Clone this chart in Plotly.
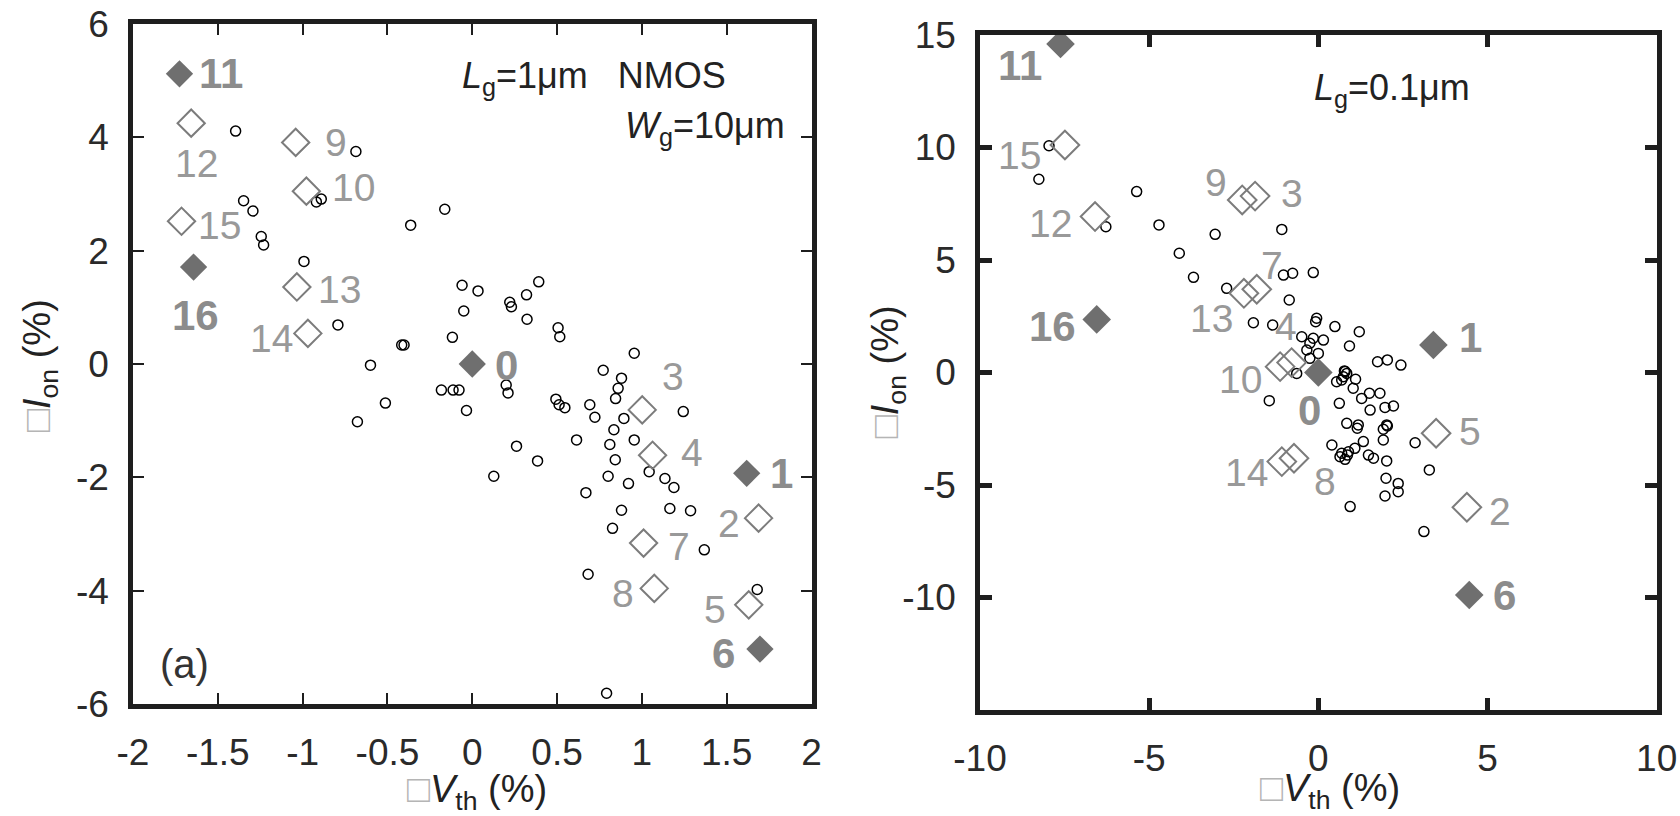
import plotly.graph_objects as go

# ---------------- Panel (a): Lg = 1 um ----------------
a_filled_id = ["0", "1", "6", "11", "16"]
a_filled_x = [0.0, 1.618, 1.696, -1.726, -1.643]
a_filled_y = [0.0, -1.93, -5.03, 5.12, 1.71]

a_open_id = ["2", "3", "4", "5", "7", "8", "9", "10", "12", "13", "14", "15"]
a_open_x = [1.688, 1.002, 1.063, 1.63, 1.01, 1.073, -1.041, -0.978, -1.657, -1.034, -0.969, -1.714]
a_open_y = [-2.72, -0.81, -1.61, -4.25, -3.16, -3.96, 3.91, 3.05, 4.25, 1.36, 0.54, 2.52]

a_circ_x = [-1.395, -0.686, -1.348, -1.293, -0.919, -0.890, -0.162, -0.363, -1.244, -1.230,
            -0.992, -0.060, 0.034, -0.050, -0.792, -0.117, -0.402, -0.416, -0.600,
            0.221, 0.231, 0.320, 0.392, 0.323, 0.506, 0.516, 0.955,
            -0.182, -0.113, -0.078, -0.512, -0.034, -0.677,
            0.772, 0.200, 0.211, 0.880, 0.860, 0.845, 0.493, 0.512, 0.546, 0.693, 0.723,
            0.894, 1.244, 0.835, 0.261, 0.615, 0.811, 0.955, 0.385, 0.843, 0.127, 0.801,
            1.043, 1.136, 1.189, 0.921, 0.670, 0.880, 1.165, 1.287, 0.827, 1.368, 0.683,
            1.680, 0.792]
a_circ_y = [4.11, 3.75, 2.88, 2.70, 2.86, 2.91, 2.73, 2.45, 2.25, 2.10,
            1.81, 1.39, 1.29, 0.935, 0.69, 0.47, 0.335, 0.335, -0.02,
            1.09, 1.01, 1.22, 1.45, 0.79, 0.64, 0.48, 0.19,
            -0.46, -0.46, -0.46, -0.69, -0.82, -1.02,
            -0.11, -0.37, -0.51, -0.25, -0.43, -0.61, -0.62, -0.72, -0.77, -0.72, -0.94,
            -0.96, -0.84, -1.16, -1.45, -1.34, -1.42, -1.34, -1.71, -1.69, -1.98, -1.98,
            -1.90, -2.02, -2.18, -2.11, -2.27, -2.58, -2.55, -2.59, -2.90, -3.28, -3.71,
            -3.98, -5.81]

a_xticks = [-2, -1.5, -1, -0.5, 0, 0.5, 1, 1.5, 2]
a_xticktext = ["-2", "-1.5", "-1", "-0.5", "0", "0.5", "1", "1.5", "2"]
a_yticks = [-6, -4, -2, 0, 2, 4, 6]
a_yticktext = ["-6", "-4", "-2", "0", "2", "4", "6"]

# ---------------- Panel (b): Lg = 0.1 um ----------------
b_filled_id = ["0", "1", "6", "11", "16"]
b_filled_x = [0.0, 3.40, 4.46, -7.62, -6.55]
b_filled_y = [0.0, 1.22, -9.89, 14.6, 2.36]

b_open_id = ["2", "3", "4", "5", "7", "8", "9", "10", "12", "13", "14", "15"]
b_open_x = [4.39, -1.87, -0.79, 3.48, -1.82, -0.72, -2.25, -1.13, -6.60, -2.20, -1.08, -7.49]
b_open_y = [-5.99, 7.84, 0.44, -2.70, 3.70, -3.81, 7.67, 0.26, 6.93, 3.52, -3.96, 10.11]

b_circ_x = [-7.96, -8.26, -5.37, -6.28, -4.71, -3.05, -1.08, -4.11, -3.69, -2.71,
            -1.03, -0.76, -0.15, -0.86, -1.92, -1.35,
            -0.05, -0.08, 0.49, 1.21, -0.49, -0.15, 0.15, -0.25, -0.34, 0.00, 0.92, -0.25,
            -0.64, 1.75, 2.04, 2.44, 0.77, 0.84, 0.69, 1.10, 1.03, 1.28, 1.51, 1.82,
            1.53, 1.97, 2.22, -1.45, 0.62, 0.84, 1.18, 2.02,
            1.15, 1.92, 2.04, 1.92, 0.40, 1.33, 1.08, 0.89, 0.69, 0.64, 0.79, 0.86,
            1.48, 1.63, 2.02, 2.00, 2.36, 2.36, 1.97, 0.94,
            0.79, 0.74, 0.54, 2.86, 3.28, 3.12]
b_circ_y = [10.08, 8.59, 8.04, 6.48, 6.56, 6.14, 6.36, 5.30, 4.23, 3.74,
            4.33, 4.41, 4.44, 3.22, 2.21, 2.11,
            2.41, 2.26, 2.04, 1.81, 1.59, 1.52, 1.44, 1.30, 1.00, 0.85, 1.18, 0.63,
            -0.04, 0.48, 0.56, 0.33, 0.07, -0.04, -0.33, -0.30, -0.70, -1.15, -0.92, -0.92,
            -1.67, -1.55, -1.49, -1.25, -1.37, -2.26, -2.33, -2.33,
            -2.48, -2.52, -2.38, -3.00, -3.22, -3.07, -3.37, -3.52, -3.59, -3.74, -3.86, -3.67,
            -3.67, -3.81, -3.93, -4.70, -4.93, -5.30, -5.49, -5.96,
            0.04, -0.19, -0.41, -3.12, -4.33, -7.07]

b_xticks = [-10, -5, 0, 5, 10]
b_xticktext = ["-10", "-5", "0", "5", "10"]
b_yticks = [-10, -5, 0, 5, 10, 15]
b_yticktext = ["-10", "-5", "0", "5", "10", "15"]

# label pixel offsets (style only): id -> (dx, dy) with dy downward
a_lab_off = {"0": (34, 2), "1": (35, 0), "6": (-36, 4), "11": (42, 0), "16": (2, 48),
             "2": (-30, 5), "3": (31, -33), "4": (39, -3), "5": (-34, 5), "7": (35, 3),
             "8": (-31, 5), "9": (40, 0), "10": (47, -4), "12": (5, 40), "13": (43, 3),
             "14": (-36, 5), "15": (38, 4)}
b_lab_off = {"0": (-9, 38), "1": (37, -8), "6": (35, 0), "11": (-41, 21), "16": (-44, 7),
             "2": (33, 4), "3": (37, -3), "4": (-6, -36), "5": (34, -2), "7": (15, -24),
             "8": (31, 23), "9": (-26, -17), "10": (-40, 13), "12": (-45, 7), "13": (-32, 25),
             "14": (-35, 11), "15": (-45, 10)}

FONT = "Liberation Sans, Arial, Helvetica, sans-serif"
FILL_C = "#6f6f6f"
OPEN_C = "#7c7c7c"
LAB_C = "#999999"
LAB_BOLD_C = "#8c8c8c"
AX_C = "#1e1e1e"

fig = go.Figure()

def add_panel(xa, ya, cx, cy, ox, oy, fx, fy, dsize):
    fig.add_trace(go.Scatter(x=cx, y=cy, mode="markers", xaxis=xa, yaxis=ya,
                             marker=dict(symbol="circle-open", size=10, color="black",
                                         line=dict(width=1.5, color="black")),
                             hoverinfo="skip"))
    fig.add_trace(go.Scatter(x=ox, y=oy, mode="markers", xaxis=xa, yaxis=ya,
                             marker=dict(symbol="diamond-open", size=dsize, color=OPEN_C,
                                         line=dict(width=2, color=OPEN_C)),
                             hoverinfo="skip"))
    fig.add_trace(go.Scatter(x=fx, y=fy, mode="markers", xaxis=xa, yaxis=ya,
                             marker=dict(symbol="diamond", size=dsize, color=FILL_C,
                                         line=dict(width=0)),
                             hoverinfo="skip"))

add_panel("x", "y", a_circ_x, a_circ_y, a_open_x, a_open_y, a_filled_x, a_filled_y, 21)
add_panel("x2", "y2", b_circ_x, b_circ_y, b_open_x, b_open_y, b_filled_x, b_filled_y, 22)

annotations = []

def add_labels(xr, yr, ids, xs, ys, offs, bold):
    for i, x, y in zip(ids, xs, ys):
        dx, dy = offs[i]
        txt = f"<b>{i}</b>" if bold else i
        annotations.append(dict(x=x, y=y, xref=xr, yref=yr, text=txt, showarrow=False,
                                xshift=dx, yshift=-dy, xanchor="center", yanchor="middle",
                                font=dict(family=FONT, size=42 if bold else 39,
                                          color=LAB_BOLD_C if bold else LAB_C)))

add_labels("x", "y", a_filled_id, a_filled_x, a_filled_y, a_lab_off, True)
add_labels("x", "y", a_open_id, a_open_x, a_open_y, a_lab_off, False)
add_labels("x2", "y2", b_filled_id, b_filled_x, b_filled_y, b_lab_off, True)
add_labels("x2", "y2", b_open_id, b_open_x, b_open_y, b_lab_off, False)

TXT = dict(family=FONT, size=36, color="#222222")
annotations += [
    dict(x=0.877, y=0.921, xref="x domain", yref="y domain", xanchor="right", yanchor="middle",
         text="<i>L</i><sub>g</sub>=1μm\u00a0\u00a0\u00a0NMOS", showarrow=False, font=TXT),
    dict(x=0.964, y=0.847, xref="x domain", yref="y domain", xanchor="right", yanchor="middle",
         text="<i>W</i><sub>g</sub>=10μm", showarrow=False, font=TXT),
    dict(x=0.0766, y=0.0588, xref="x domain", yref="y domain", xanchor="center", yanchor="middle",
         text="(a)", showarrow=False, font=dict(family=FONT, size=40, color="#333333")),
    dict(x=0.727, y=0.9185, xref="x2 domain", yref="y2 domain", xanchor="right", yanchor="middle",
         text="<i>L</i><sub>g</sub>=0.1μm", showarrow=False, font=TXT),
]

BOX = "<span style='color:#b5b5b5'>□</span>"
TITLE_F = dict(family=FONT, size=38, color="#222222")
annotations += [
    dict(x=0.0238, y=0.5527, xref="paper", yref="paper", textangle=-90, showarrow=False,
         xanchor="center", yanchor="middle",
         text=BOX + "<i>I</i><sub>on</sub> (%)", font=TITLE_F),
    dict(x=0.5286, y=0.544, xref="paper", yref="paper", textangle=-90, showarrow=False,
         xanchor="center", yanchor="middle",
         text=BOX + "<i>I</i><sub>on</sub> (%)", font=TITLE_F),
    dict(x=0.284, y=0.030, xref="paper", yref="paper", showarrow=False,
         xanchor="center", yanchor="middle", borderpad=0,
         text=BOX + "<i>V</i><sub>th</sub> (%)", font=TITLE_F),
    dict(x=0.7917, y=0.031, xref="paper", yref="paper", showarrow=False,
         xanchor="center", yanchor="middle", borderpad=0,
         text=BOX + "<i>V</i><sub>th</sub> (%)", font=TITLE_F),
]

TICKF = dict(family=FONT, size=37, color="#2a2a2a")

def axis(domain, rng, tv, tt, anchor, tlen, twid):
    return dict(domain=domain, range=rng, tickvals=tv, ticktext=tt, anchor=anchor,
                showline=True, linewidth=4.5, linecolor=AX_C, mirror="allticks",
                ticks="inside", ticklen=tlen, tickwidth=twid, tickcolor=AX_C,
                showgrid=False, zeroline=False, tickfont=TICKF, ticklabelstandoff=12,
                automargin=False, fixedrange=True)

fig.update_layout(
    width=1680, height=816, margin=dict(l=0, r=0, t=0, b=0, autoexpand=False),
    paper_bgcolor="white", plot_bgcolor="white", showlegend=False,
    xaxis=axis([0.07917, 0.48304], [-2, 2], a_xticks, a_xticktext, "y", 11, 2),
    yaxis=axis([0.13725, 0.97059], [-6, 6], a_yticks, a_yticktext, "x", 11, 2),
    xaxis2=axis([0.58333, 0.98613], [-10, 10], b_xticks, b_xticktext, "y2", 12, 5),
    yaxis2=axis([0.1299, 0.9571], [-15, 15], b_yticks, b_yticktext, "x2", 12, 5),
    annotations=annotations,
)

fig.write_html("out.html")
